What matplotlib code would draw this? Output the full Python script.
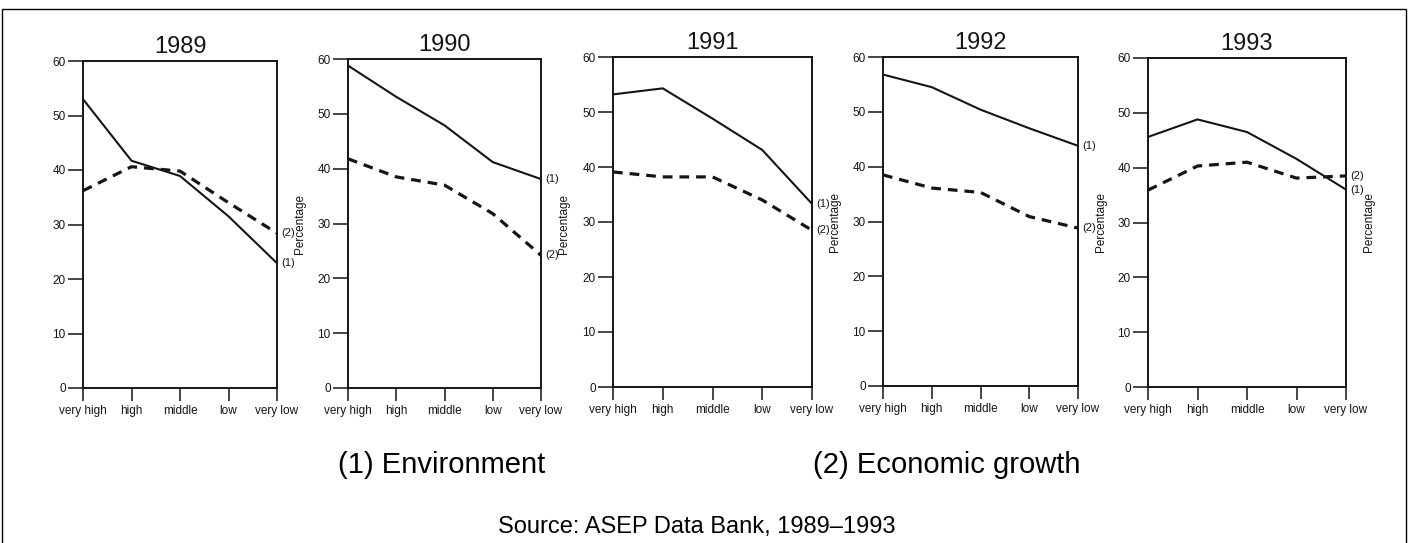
import matplotlib

matplotlib.use("Agg")
import matplotlib.pyplot as plt
from matplotlib.patches import Rectangle

plt.rcParams["font.family"] = ["Liberation Sans", "DejaVu Sans"]
plt.rcParams["lines.scale_dashes"] = False

# data (percentages)
years = ["1989", "1990", "1991", "1992", "1993"]
categories = ["very high", "high", "middle", "low", "very low"]
environment = [
    [53.0, 41.7, 38.9, 31.5, 22.9],
    [58.8, 53.1, 47.9, 41.2, 38.1],
    [53.2, 54.3, 48.8, 43.1, 33.3],
    [56.8, 54.5, 50.4, 47.0, 43.8],
    [45.6, 48.8, 46.5, 41.6, 36.0],
]
economic_growth = [
    [36.2, 40.6, 39.8, 34.0, 28.4],
    [41.8, 38.5, 37.0, 31.8, 24.2],
    [39.1, 38.2, 38.2, 34.0, 28.5],
    [38.5, 36.1, 35.3, 30.9, 28.8],
    [35.9, 40.3, 41.0, 38.1, 38.5],
]
yticks = [0, 10, 20, 30, 40, 50, 60]

# panel boxes in pixels: left, right, top, bottom
W, H = 1411, 543
boxes = [
    (83, 277, 61, 388),
    (348, 541, 59, 388),
    (613, 812, 57, 387),
    (883, 1078, 57, 386),
    (1148, 1346, 58, 387),
]
ink = "#151515"


def draw_panel(ax, year, env, eco):
    x = range(len(categories))
    ax.plot(x, env, color=ink, linewidth=1.5, solid_joinstyle="round")
    ax.plot(x, eco, color=ink, linewidth=2.3, dashes=(7, 5))
    ax.set_xlim(0, len(categories) - 1)
    ax.set_ylim(0, 60)
    ax.set_xticks(list(x))
    ax.set_xticklabels(categories)
    ax.set_yticks(yticks)
    ax.tick_params(axis="y", direction="out", length=11, width=1.1,
                   labelsize=8.5, pad=1.5, colors=ink)
    ax.tick_params(axis="x", direction="out", length=9.5, width=1.1,
                   labelsize=8.5, pad=3, colors=ink)
    for s in ax.spines.values():
        s.set_linewidth(1.4)
        s.set_color(ink)
    ax.set_title(year, fontsize=17, pad=5.5, color=ink)
    ax.text(1.0, 0.5, "Percentage", transform=ax.transAxes, rotation=90,
            fontsize=8.5, ha="center", va="center", color=ink,
            bbox=None).set_x(1.0 + 23 / (ax.bbox.width))
    ax.annotate("(1)", xy=(1.0, env[-1]), xycoords=("axes fraction", "data"),
                xytext=(3, 0), textcoords="offset points", fontsize=8,
                va="center", ha="left", color=ink)
    ax.annotate("(2)", xy=(1.0, eco[-1]), xycoords=("axes fraction", "data"),
                xytext=(3, 0), textcoords="offset points", fontsize=8,
                va="center", ha="left", color=ink)


def plot_all():
    fig = plt.figure(figsize=(W / 100, H / 100), dpi=100)
    for i, (l, r, t, b) in enumerate(boxes):
        ax = fig.add_axes([l / W, (H - b) / H, (r - l) / W, (b - t) / H])
        draw_panel(ax, years[i], environment[i], economic_growth[i])

    # frame around the whole figure
    fig.patches.append(Rectangle((2 / W, -0.01), (1406 - 2) / W, 1.01 - 9 / H,
                                 transform=fig.transFigure, fill=False,
                                 edgecolor="black", linewidth=1.0))

    fig.text(442 / W, 1 - 465 / H, "(1) Environment", fontsize=21,
             ha="center", va="center")
    fig.text(947 / W, 1 - 465 / H, "(2) Economic growth", fontsize=21,
             ha="center", va="center")
    fig.text(697 / W, 1 - 527 / H, "Source: ASEP Data Bank, 1989\u20131993",
             fontsize=17, ha="center", va="center")

    plt.savefig("out.png", dpi=100)


if __name__ == "__main__":
    plot_all()
